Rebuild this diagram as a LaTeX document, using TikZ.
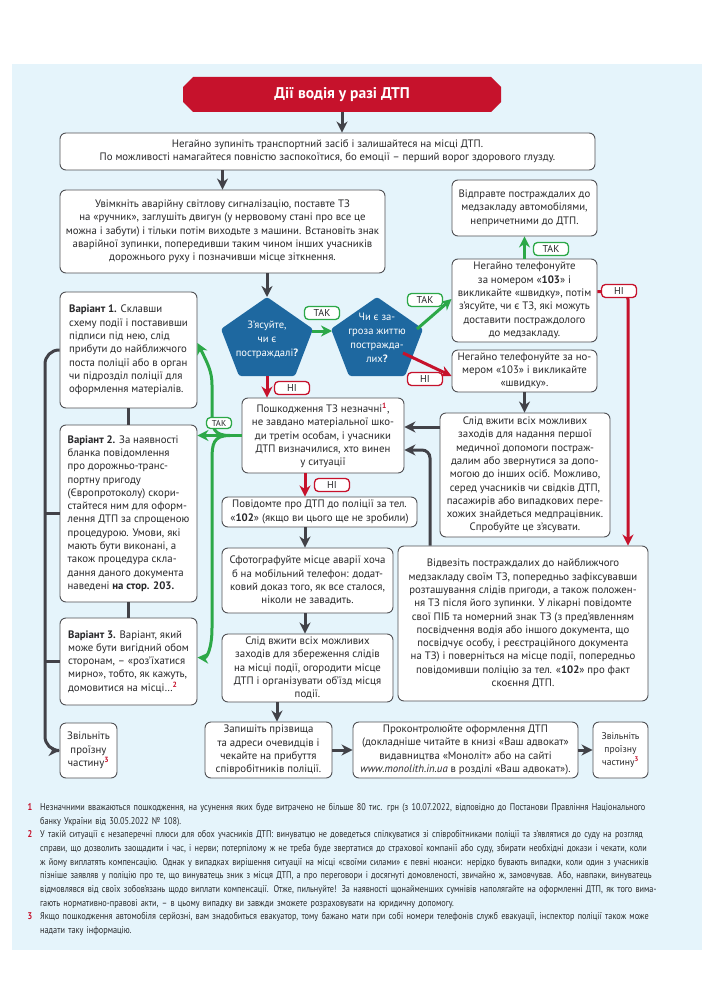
\documentclass[tikz,border=0pt]{standalone}
\usepackage{fontspec}
\setmainfont{PT Sans}
\newfontfamily\notefont[FakeStretch=0.84]{PT Sans}
\usetikzlibrary{arrows.meta,calc}

\definecolor{panelblue}{RGB}{229,244,251}
\definecolor{boxline}{RGB}{80,80,84}
\definecolor{arrowgray}{RGB}{66,66,72}
\definecolor{okgreen}{RGB}{44,168,72}
\definecolor{alarmred}{RGB}{198,18,44}
\definecolor{pentblue}{RGB}{30,104,160}
\definecolor{inkgray}{RGB}{40,40,42}

\newcommand{\boxtext}{\fontsize{10.8}{13.3}\selectfont}
\newcommand{\refmark}[1]{\textsuperscript{\textcolor{alarmred}{\textbf{#1}}}}
\newcommand{\fullline}[1]{\makebox[648pt][s]{#1}\\}
\newcommand{\notemark}[1]{\llap{\textcolor{alarmred}{\textbf{#1}}\hspace{8pt}}}

\tikzset{
  stepbox/.style={draw=boxline, fill=white, line width=0.9pt, rounded corners=6pt,
    align=center, inner sep=1.5pt, text=inkgray, font=\boxtext},
  optbox/.style={stepbox, align=left},
  flow/.style={line width=3pt, -{Stealth[length=11pt,width=11pt,inset=3.5pt]}},
  darkarrow/.style={flow, draw=arrowgray},
  greenarrow/.style={flow, draw=okgreen},
  redarrow/.style={flow, draw=alarmred},
  darkline/.style={draw=arrowgray, line width=3pt},
  answer/.style={fill=white, line width=1.3pt, rounded corners=4pt, minimum width=35pt,
    minimum height=13pt, inner sep=0pt, text=inkgray, font=\fontsize{10}{11}\selectfont},
  yeslbl/.style={answer, draw=okgreen},
  nolbl/.style={answer, draw=alarmred},
  pentfill/.style={fill=pentblue, rounded corners=2.5pt},
  penttext/.style={text=white, align=center, font=\fontsize{10.6}{14}\selectfont},
}

\begin{document}
\begin{tikzpicture}[x=1pt,y=1pt,yscale=-1]
\useasboundingbox (0,0) rectangle (702,1000);

%Shape: Panel
\fill[panelblue] (12,64) rectangle (702,950);

%Shape: Banner
\fill[alarmred] (193,77) -- (491,77) -- (501,87) -- (501,102) -- (491,112) -- (193,112) -- (183,102) -- (183,87) -- cycle;
% Text Node
\node[text=white, font=\fontsize{15.5}{17}\selectfont\bfseries] (title) at (342,95) {Дії водія у разі ДТП};
\coordinate (titlefoot) at (342,112);

%Rounded Rect
\node[stepbox, minimum width=535, minimum height=37] (stop) at (327.5,151.5)
  {Негайно зупиніть транспортний засіб і залишайтеся на місці ДТП.\\
   По можливості намагайтеся повністю заспокоїтися, бо емоції – перший ворог здорового глузду.};
%Rounded Rect
\node[stepbox, minimum width=325, minimum height=83] (hazard) at (222.5,231.5)
  {Увімкніть аварійну світлову сигналізацію, поставте ТЗ\\
   на «ручник», заглушіть двигун (у нервовому стані про все це\\
   можна і забути) і тільки потім виходьте з машини. Встановіть знак\\
   аварійної зупинки, попередивши таким чином інших учасників\\
   дорожнього руху і позначивши місце зіткнення.};

%Shape: Pentagon
\fill[pentfill] (267,297) -- (313,329) -- (295,376) -- (239,376) -- (221,329) -- cycle;
\coordinate (p1top) at (267,297);
\coordinate (p1right) at (312,331);
\coordinate (p1foot) at (267,376);
% Text Node
\node[penttext] (victims) at (267,340) {З’ясуйте,\\ чи є\\ постраждалі\textbf{?}};
%Shape: Pentagon
\fill[pentfill] (377,297) -- (423,329) -- (405,376) -- (349,376) -- (331,329) -- cycle;
\coordinate (p2left) at (332,331);
\coordinate (p2right) at (417,329);
\coordinate (p2low) at (403,353);
% Text Node
\node[penttext] (threat) at (377,338) {Чи є за-\\гроза життю\\ постражда-\\лих\textbf{?}};

%Rounded Rect
\node[stepbox, minimum width=145, minimum height=56] (sendcars) at (524.5,208)
  {Відправте постраждалих до\\ медзакладу автомобілями,\\ непричетними до ДТП.};
\node[stepbox, minimum width=145, minimum height=83] (call103) at (524.5,300.5)
  {Негайно телефонуйте\\ за номером «\textbf{103}» і\\ викликайте «швидку», потім\\
   з’ясуйте, чи є ТЗ, які можуть\\ доставити постраждолого\\ до медзакладу.};
\node[stepbox, minimum width=145, minimum height=42] (callamb) at (524.5,371)
  {Негайно телефонуйте за но-\\мером «103» і викликайте\\ «швидку».};
\node[stepbox, minimum width=170, minimum height=124] (firstaid) at (525,475)
  {Слід вжити всіх можливих\\ заходів для надання першої\\ медичної допомоги постраж-\\
   далим або звернутися за допо-\\могою до інших осіб. Можливо,\\
   серед учасників чи свідків ДТП,\\ пасажирів або випадкових пере-\\
   хожих знайдеться медпрацівник.\\ Спробуйте це з’ясувати.};
\node[stepbox, minimum width=250, minimum height=155] (takehosp) at (523,623.5)
  {Відвезіть постраждалих до найближчого\\
   медзакладу своїм ТЗ, попередньо зафіксувавши\\
   розташування слідів пригоди, а також положен-\\
   ня ТЗ після його зупинки. У лікарні повідомте\\
   свої ПІБ та номерний знак ТЗ (з пред’явленням\\
   посвідчення водія або іншого документа, що\\
   посвідчує особу, і реєстраційного документа\\
   на ТЗ) і поверніться на місце події, попередньо\\
   повідомивши поліцію за тел. «\textbf{102}» про факт\\
   скоєння ДТП.};

%Rounded Rect
\node[stepbox, minimum width=162, minimum height=75] (damage) at (323,435.5)
  {Пошкодження ТЗ незначні\refmark{1},\\ не завдано матеріальної шко-\\
   ди третім особам, і учасники\\ ДТП визначилися, хто винен\\ у ситуації};
\node[stepbox, minimum width=195, minimum height=30] (report) at (319.5,512)
  {Повідомте про ДТП до поліції за тел.\\ «\textbf{102}» (якщо ви цього ще не зробили)};
\node[stepbox, minimum width=171, minimum height=65] (photo) at (307.5,580.5)
  {Сфотографуйте місце аварії хоча\\ б на мобільний телефон: додат-\\
   ковий доказ того, як все сталося,\\ ніколи не завадить.};
\node[stepbox, minimum width=171, minimum height=68] (traces) at (307.5,668)
  {Слід вжити всіх можливих\\ заходів для збереження слідів\\ на місці події, огородити місце\\
   ДТП і організувати об’їзд місця\\ події.};

%Rounded Rect
\node[optbox, minimum width=137, minimum height=116] (variant1) at (128.5,350)
  {\textbf{Варіант 1.} Склавши\\ схему події і поставивши\\ підписи під нею, слід\\
   прибути до найближчого\\ поста поліції або в орган\\ чи підрозділ поліції для\\
   оформлення матеріалів.};
\node[optbox, minimum width=137, minimum height=177] (variant2) at (128.5,513.5)
  {\textbf{Варіант 2.} За наявності\\ бланка повідомлення\\ про дорожньо-транс-\\
   портну пригоду\\ (Європротоколу) скори-\\стайтеся ним для оформ-\\
   лення ДТП за спрощеною\\ процедурою. Умови, які\\ мають бути виконані, а\\
   також процедура скла-\\дання даного документа\\ наведені \textbf{на стор. 203.}};
\node[optbox, minimum width=137, minimum height=87] (variant3) at (128.5,661.5)
  {\textbf{Варіант 3.} Варіант, який\\ може бути вигідний обом\\ сторонам, – «роз’їхатися\\
   мирно», тобто, як кажуть,\\ домовитися на місці…\refmark{2}};

%Rounded Rect
\node[stepbox, minimum width=57, minimum height=55] (clearL) at (88.5,750.5)
  {Звільніть\\ проїзну\\ частину\refmark{3}};
\node[stepbox, minimum width=127, minimum height=56] (witnesses) at (268.5,750)
  {Запишіть прізвища\\ та адреси очевидців і\\ чекайте на прибуття\\ співробітників поліції.};
\node[stepbox, minimum width=225, minimum height=56] (control) at (465.5,750)
  {Проконтролюйте оформлення ДТП\\ (докладніше читайте в книзі «Ваш адвокат»\\
   видавництва «Моноліт» або на сайті\\ \textit{www.monolith.in.ua} в розділі «Ваш адвокат»).};
\node[stepbox, minimum width=55, minimum height=56, font=\fontsize{9.6}{13}\selectfont] (clearR) at (620.5,750)
  {Звільніть\\ проїзну\\ частину\refmark{3}};

%Coordinates for connectors
\coordinate (redline) at (628,0);
\coordinate (backline) at (430,0);
\coordinate (centreline) at (305,0);
\coordinate (witx) at (277,0);
\coordinate (busx) at (45,0);
\coordinate (dmgin1) at ($(damage.east)+(0,-8.5)$);
\coordinate (dmgin2) at ($(damage.east)+(0,14.5)$);
\coordinate (greensplit) at (230,435.5);

%Straight Lines
\draw[darkarrow] (titlefoot) -- (stop.north -| titlefoot);
\draw[darkarrow] (hazard.north |- stop.south) -- (hazard.north);
\draw[darkarrow] (p1top |- hazard.south) -- (p1top);
\draw[greenarrow] (p1right) -- (p2left);
\draw[greenarrow] (p2right) -- ([yshift=-1.5pt]call103.west);
\draw[redarrow] (p2low) -- ([yshift=5pt]callamb.west);
\draw[redarrow] (p1foot) -- (damage.north -| p1foot);
\draw[greenarrow] (call103.north) -- (sendcars.south);
\draw[redarrow, rounded corners=8pt] ([yshift=-9pt]call103.east) -| (takehosp.north -| redline);
\draw[darkarrow] (callamb.south) -- (firstaid.north -| callamb.south);
\draw[darkarrow] (firstaid.west |- dmgin1) -- (dmgin1);
\draw[darkarrow, rounded corners=8pt] (takehosp.north -| backline) |- (dmgin2);
\draw[redarrow] (damage.south -| centreline) -- (report.north -| centreline);
\draw[darkarrow] (report.south -| centreline) -- (photo.north -| centreline);
\draw[darkarrow] (photo.south -| centreline) -- (traces.north -| centreline);
\draw[darkarrow] (traces.south -| witx) -- (witnesses.north -| witx);
\draw[darkarrow] (witnesses.east) -- (control.west);
\draw[darkarrow] (control.east) -- (clearR.west);

%Green branches to the variants
\draw[greenarrow] (damage.west) -- (variant2.east |- damage.west);
\draw[greenarrow] (greensplit) .. controls (213,435.5) and (212,428) .. (212,412) -- (212,385) .. controls (212,372) and (208,364) .. ([yshift=-7pt]variant1.east);
\draw[greenarrow] (greensplit) .. controls (213,435.5) and (212,444) .. (212,460) -- (212,628) .. controls (212,648) and (207,658) .. ([yshift=-4pt]variant3.east);

%Grey bus on the left
\draw[darkline] (variant1.south) -- (variant2.north);
\draw[darkline] (variant2.south) -- (variant3.north);
\draw[darkline] (variant2.west -| busx) -- (variant2.west);
\draw[darkline] (variant3.west -| busx) -- (variant3.west);
\draw[darkarrow, rounded corners=14pt] (variant1.west) -- (variant1.west -| busx) -- (clearL.west -| busx) -- (clearL.west);

% Text Node
\node[yeslbl] (yes1) at (322,313) {ТАК};
\node[yeslbl] (yes2) at (425,300) {ТАК};
\node[nolbl] (no1) at (425,379) {НІ};
\node[nolbl] (no2) at (292,388) {НІ};
\node[yeslbl] (yes3) at (551,249) {ТАК};
\node[nolbl] (no3) at (619,291) {НІ};
\node[yeslbl, minimum width=25pt, minimum height=11pt, font=\fontsize{8.6}{9}\selectfont] (yes4) at (219,423) {ТАК};
\node[nolbl] (no4) at (332,485) {НІ};

% Text Node
\node[anchor=north west, text width=648pt, align=left, inner sep=0pt, text=inkgray,
  font=\notefont\fontsize{9.8}{13.7}\selectfont] (notes) at (40,803) {\noindent
\fullline{\notemark{1}Незначними вважаються пошкодження, на усунення яких буде витрачено не більше 80 тис. грн (з 10.07.2022, відповідно до Постанови Правління Національного}
банку України від 30.05.2022 № 108).\\
\fullline{\notemark{2}У такій ситуації є незаперечні плюси для обох учасників ДТП: винуватцю не доведеться спілкуватися зі співробітниками поліції та з’являтися до суду на розгляд}
\fullline{справи, що дозволить заощадити і час, і нерви; потерпілому ж не треба буде звертатися до страхової компанії або суду, збирати необхідні докази і чекати, коли}
\fullline{ж йому виплатять компенсацію. Однак у випадках вирішення ситуації на місці «своїми силами» є певні нюанси: нерідко бувають випадки, коли один з учасників}
\fullline{пізніше заявляв у поліцію про те, що винуватець зник з місця ДТП, а про переговори і досягнуті домовленості, звичайно ж, замовчував. Або, навпаки, винуватець}
\fullline{відмовлявся від своїх зобов’язань щодо виплати компенсації. Отже, пильнуйте! За наявності щонайменших сумнівів наполягайте на оформленні ДТП, як того вима-}
гають нормативно-правові акти, – в цьому випадку ви завжди зможете розраховувати на юридичну допомогу.\\
\fullline{\notemark{3}Якщо пошкодження автомобіля серйозні, вам знадобиться евакуатор, тому бажано мати при собі номери телефонів служб евакуації, інспектор поліції також може}
надати таку інформацію.};

\end{tikzpicture}
\end{document}
